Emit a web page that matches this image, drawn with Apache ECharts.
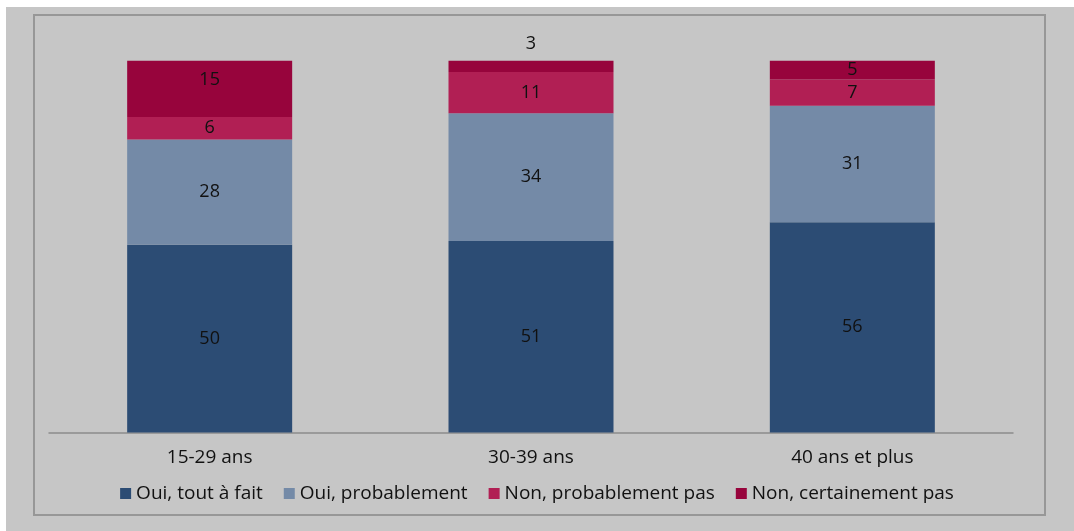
<!DOCTYPE html>
<html><head><meta charset="utf-8">
<script src="https://cdn.jsdelivr.net/npm/echarts@6/dist/echarts.min.js"></script>
<style>html,body{margin:0;padding:0;background:#fff;}#c{width:1074px;height:531px;}</style>
</head><body><div id="c"></div>
<script>
const categories = ['15-29 ans', '30-39 ans', '40 ans et plus'];
const seriesNames = ['Oui, tout à fait', 'Oui, probablement', 'Non, probablement pas', 'Non, certainement pas'];
const ouiToutAFait = [50, 51, 56];
const ouiProbablement = [28, 34, 31];
const nonProbablementPas = [6, 11, 7];
const nonCertainementPas = [15, 3, 5];
const colors = ['#2c4c74', '#748aa7', '#b11f54', '#97043c'];

const values = [ouiToutAFait, ouiProbablement, nonProbablementPas, nonCertainementPas];
const FONT = 'Open Sans';
const TXT = '#111111';
const FW = 500;
const chart = echarts.init(document.getElementById('c'));
const series = values.map((arr, i) => ({
  name: seriesNames[i],
  type: 'bar',
  stack: 'total',
  barWidth: 165,
  itemStyle: { color: colors[i] },
  data: arr.map(v => {
    const small = v < 5;
    const big = v >= 15 && i === 3;
    return {
      value: v,
      label: {
        show: true,
        position: small ? 'top' : 'inside',
        distance: small ? 8 : 5,
        offset: big ? [0, -9] : [0, 0],
        color: TXT,
        fontSize: 18,
        fontWeight: FW,
        fontFamily: FONT
      }
    };
  })
}));

chart.setOption({
  backgroundColor: '#fff',
  animation: false,
  graphic: [
    { type: 'rect', z: -10, shape: { x: 6, y: 7, width: 1068, height: 524 }, style: { fill: '#c6c6c6' } },
    { type: 'rect', z: -9, shape: { x: 34, y: 15, width: 1011, height: 500 }, style: { fill: 'none', stroke: '#979797', lineWidth: 2 } }
  ],
  legend: {
    data: seriesNames,
    bottom: 23,
    left: 'center',
    itemWidth: 11,
    itemHeight: 11,
    itemGap: 21,
    icon: 'rect',
    textStyle: { fontFamily: FONT, fontSize: 19, fontWeight: FW, color: TXT }
  },
  grid: { left: 49, top: 57, width: 964, height: 375.5 },
  xAxis: {
    type: 'category',
    data: categories,
    axisLine: { lineStyle: { color: '#8c8c8c', width: 1.5 } },
    axisTick: { show: false },
    axisLabel: { fontFamily: FONT, fontSize: 19, fontWeight: FW, color: TXT, margin: 16 }
  },
  yAxis: {
    type: 'value', min: 0, max: 100,
    show: false,
    splitLine: { show: false }
  },
  series: series
});
</script></body></html>
